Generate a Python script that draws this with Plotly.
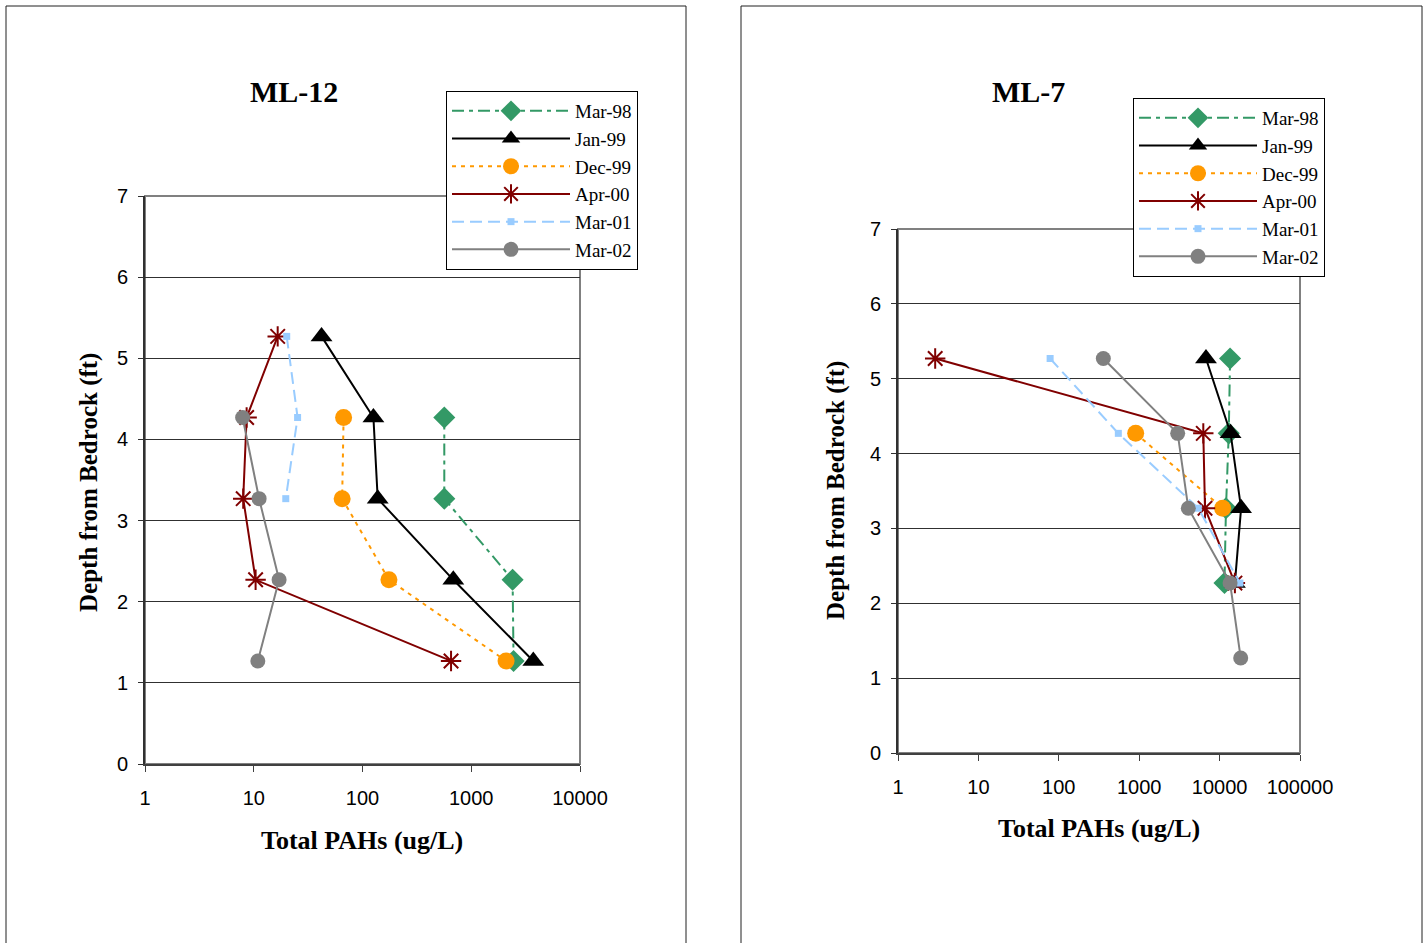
import plotly.graph_objects as go

# ---------------- data ----------------
series_names = ["Mar-98", "Jan-99", "Dec-99", "Apr-00", "Mar-01", "Mar-02"]

ml12_depth = {
    "Mar-98": [4.27, 3.27, 2.27, 1.27],
    "Jan-99": [5.27, 4.27, 3.27, 2.27, 1.27],
    "Dec-99": [4.27, 3.27, 2.27, 1.27],
    "Apr-00": [5.27, 4.27, 3.27, 2.27, 1.27],
    "Mar-01": [5.27, 4.27, 3.27],
    "Mar-02": [4.27, 3.27, 2.27, 1.27],
}
ml12_pah = {
    "Mar-98": [565, 565, 2400, 2450],
    "Jan-99": [42, 126, 138, 684, 3720],
    "Dec-99": [67, 65, 175, 2090],
    "Apr-00": [16.6, 8.6, 8.0, 10.4, 652],
    "Mar-01": [20.1, 25.3, 19.7],
    "Mar-02": [7.9, 11.2, 17.1, 10.9],
}

ml7_depth = {
    "Mar-98": [5.27, 4.27, 3.27, 2.27],
    "Jan-99": [5.27, 4.27, 3.27, 2.27],
    "Dec-99": [4.27, 3.27],
    "Apr-00": [5.27, 4.27, 3.27, 2.27],
    "Mar-01": [5.27, 4.27, 3.27, 2.27],
    "Mar-02": [5.27, 4.27, 3.27, 2.27, 1.27],
}
ml7_pah = {
    "Mar-98": [13500, 13000, 12000, 11500],
    "Jan-99": [6770, 13700, 18500, 15500],
    "Dec-99": [904, 10900],
    "Apr-00": [2.9, 6270, 6580, 15500],
    "Mar-01": [78, 550, 5430, 17900],
    "Mar-02": [358, 3010, 4080, 13500, 18300],
}

ml12_ticks = [1, 10, 100, 1000, 10000]
ml12_ticktext = ["1", "10", "100", "1000", "10000"]
ml7_ticks = [1, 10, 100, 1000, 10000, 100000]
ml7_ticktext = ["1", "10", "100", "1000", "10000", "100000"]
depth_ticks = [0, 1, 2, 3, 4, 5, 6, 7]

styles = {
    "Mar-98": dict(color="#339966", dash="12px,5px,4px,5px", symbol="diamond", size=17, lw=2),
    "Jan-99": dict(color="#000000", dash="solid", symbol="triangle-up", size=19, lw=2),
    "Dec-99": dict(color="#FF9900", dash="4px,5px", symbol="circle", size=17, lw=2),
    "Apr-00": dict(color="#800000", dash="solid", symbol="asterisk-open", size=17, lw=2),
    "Mar-01": dict(color="#99CCFF", dash="12px,6px", symbol="square", size=7, lw=2),
    "Mar-02": dict(color="#808080", dash="solid", symbol="circle", size=15, lw=2),
}

W, H = 1427, 943
def px(x):
    return x / W
def py(y):
    return 1 - y / H

fig = go.Figure()

def add_series(depths, pahs, xa, ya, legend):
    for name in series_names:
        s = styles[name]
        marker = dict(symbol=s["symbol"], size=s["size"], color=s["color"])
        if s["symbol"] == "asterisk-open":
            marker["line"] = dict(color=s["color"], width=2)
        else:
            marker["line"] = dict(width=0)
        fig.add_trace(go.Scatter(
            x=pahs[name], y=depths[name], name=name, mode="lines+markers",
            line=dict(color=s["color"], width=s["lw"], dash=s["dash"]),
            marker=marker, xaxis=xa, yaxis=ya, legend=legend,
            hoverinfo="skip",
        ))

add_series(ml12_depth, ml12_pah, "x", "y", "legend")
add_series(ml7_depth, ml7_pah, "x2", "y2", "legend2")

tick_font = dict(family="Liberation Sans, Arial", size=20, color="black")
title_font = dict(family="Liberation Serif, Times New Roman", size=30, color="black")
ytitle_font = dict(family="Liberation Serif, Times New Roman", size=25, color="black")
xtitle_font = dict(family="Liberation Serif, Times New Roman", size=26, color="black")
legend_font = dict(family="Liberation Serif, Times New Roman", size=19, color="black")

L_x = [px(145), px(580)]
L_y = [py(764), py(196)]
R_x = [px(898), px(1300)]
R_y = [py(753), py(229)]

common_x = dict(type="log", showgrid=False, showline=True, linecolor="#404040", linewidth=2,
                ticks="outside", ticklen=6, tickcolor="#404040", tickfont=tick_font,
                zeroline=False, ticklabelstandoff=9, fixedrange=True, automargin=False)
common_y = dict(range=[0, 7], tickvals=depth_ticks, showgrid=True, gridcolor="#303030", gridwidth=1,
                showline=True, linecolor="#303030", linewidth=2, ticks="outside", ticklen=5,
                tickcolor="#303030", tickfont=tick_font, zeroline=False, ticklabelstandoff=6,
                fixedrange=True, automargin=False)

legend_common = dict(xanchor="left", yanchor="top", bgcolor="white", bordercolor="black",
                     borderwidth=1, font=legend_font, itemwidth=118, tracegroupgap=0,
                     itemsizing="trace")

fig.update_layout(
    width=W, height=H, autosize=False, margin=dict(l=0, r=0, t=0, b=0, pad=0, autoexpand=False),
    paper_bgcolor="white", plot_bgcolor="white",
    showlegend=True,
    xaxis=dict(domain=L_x, range=[0, 4], tickvals=ml12_ticks, ticktext=ml12_ticktext,
               anchor="y", **common_x),
    yaxis=dict(domain=L_y, anchor="x", **common_y),
    xaxis2=dict(domain=R_x, range=[0, 5], tickvals=ml7_ticks, ticktext=ml7_ticktext,
                anchor="y2", **common_x),
    yaxis2=dict(domain=R_y, anchor="x2", **common_y),
    legend=dict(x=px(446), y=py(91), **legend_common),
    legend2=dict(x=px(1133), y=py(98), **legend_common),
)

shapes = [
    dict(type="rect", xref="paper", yref="paper", x0=px(6), x1=px(686), y0=-0.05, y1=py(6),
         line=dict(color="#202020", width=1), layer="below"),
    dict(type="rect", xref="paper", yref="paper", x0=px(741), x1=px(1422), y0=-0.05, y1=py(6),
         line=dict(color="#202020", width=1), layer="below"),
    dict(type="rect", xref="paper", yref="paper", x0=L_x[0], x1=L_x[1], y0=L_y[0], y1=L_y[1],
         line=dict(color="#808080", width=2), layer="below"),
    dict(type="rect", xref="paper", yref="paper", x0=R_x[0], x1=R_x[1], y0=R_y[0], y1=R_y[1],
         line=dict(color="#808080", width=2), layer="below"),
]
fig.update_layout(shapes=shapes)

annotations = [
    dict(text="<b>ML-12</b>", x=px(294), y=py(91), font=title_font),
    dict(text="<b>ML-7</b>", x=px(1028), y=py(91), font=title_font),
    dict(text="<b>Depth from Bedrock (ft)</b>", x=px(89), y=py(483), textangle=-90, font=ytitle_font),
    dict(text="<b>Depth from Bedrock (ft)</b>", x=px(836), y=py(491), textangle=-90, font=ytitle_font),
    dict(text="<b>Total PAHs (ug/L)</b>", x=px(362), y=py(840), font=xtitle_font),
    dict(text="<b>Total PAHs (ug/L)</b>", x=px(1099), y=py(828), font=xtitle_font),
]
for a in annotations:
    a.update(xref="paper", yref="paper", showarrow=False, xanchor="center", yanchor="middle")
fig.update_layout(annotations=annotations)

fig.write_html(
    "out.html",
    config={"displayModeBar": False},
    post_script="document.body.style.margin='0';document.body.style.overflow='hidden';",
)
